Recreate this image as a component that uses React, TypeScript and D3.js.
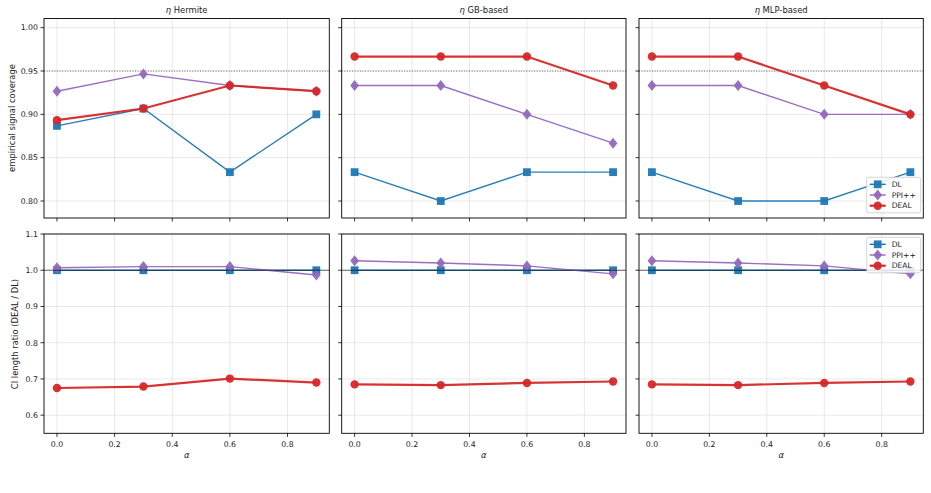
import React from "react";
import * as d3 from "d3";

const alphas = [0.0, 0.3, 0.6, 0.9];
const xTicks = [0.0, 0.2, 0.4, 0.6, 0.8];
const panelTitles = ["η Hermite", "η GB-based", "η MLP-based"];
const seriesNames = ["DL", "PPI++", "DEAL"];

// empirical signal coverage, one array per panel
const coverageDL = [
  [0.8867, 0.9067, 0.8333, 0.9],
  [0.8333, 0.8, 0.8333, 0.8333],
  [0.8333, 0.8, 0.8, 0.8333],
];
const coveragePPI = [
  [0.9267, 0.9467, 0.9333, 0.9267],
  [0.9333, 0.9333, 0.9, 0.8667],
  [0.9333, 0.9333, 0.9, 0.9],
];
const coverageDEAL = [
  [0.8933, 0.9067, 0.9333, 0.9267],
  [0.9667, 0.9667, 0.9667, 0.9333],
  [0.9667, 0.9667, 0.9333, 0.9],
];

// CI length ratio relative to DL
const ratioDL = [
  [1.0, 1.0, 1.0, 1.0],
  [1.0, 1.0, 1.0, 1.0],
  [1.0, 1.0, 1.0, 1.0],
];
const ratioPPI = [
  [1.007, 1.01, 1.01, 0.987],
  [1.026, 1.02, 1.012, 0.99],
  [1.026, 1.02, 1.012, 0.99],
];
const ratioDEAL = [
  [0.675, 0.679, 0.701, 0.69],
  [0.685, 0.683, 0.689, 0.693],
  [0.685, 0.683, 0.689, 0.693],
];

const coverageTicks = [0.8, 0.85, 0.9, 0.95, 1.0];
const ratioTicks = [0.6, 0.7, 0.8, 0.9, 1.0, 1.1];
const coverageTarget = 0.95;
const ratioBaseline = 1.0;

const COLORS = ["#1f77b4", "#9467bd", "#d62728"];
const LINE_W = [1.4, 1.4, 2.2];
const FONT = "DejaVu Sans, sans-serif";

const colX: [number, number][] = [
  [44, 329.3],
  [341.7, 626],
  [639, 923.3],
];
const rowY: [number, number][] = [
  [18.5, 218],
  [234, 433.3],
];

function Marker({ kind, x, y, color }: { kind: number; x: number; y: number; color: string }) {
  if (kind === 0) {
    const s = 7.8;
    return <rect x={x - s / 2} y={y - s / 2} width={s} height={s} fill={color} fillOpacity={0.95} />;
  }
  if (kind === 1) {
    const r = 5.5;
    return (
      <path
        d={`M${x},${y - r}L${x + r * 0.8},${y}L${x},${y + r}L${x - r * 0.8},${y}Z`}
        fill={color}
        fillOpacity={0.95}
      />
    );
  }
  return <circle cx={x} cy={y} r={4.2} fill={color} fillOpacity={0.95} />;
}

function Legend({ x, y }: { x: number; y: number }) {
  const w = 54;
  const h = 35.5;
  return (
    <g transform={`translate(${x},${y})`}>
      <rect x={0} y={0} width={w} height={h} rx={2} fill="white" fillOpacity={0.85} stroke="#cccccc" strokeWidth={0.8} />
      {seriesNames.map((n, i) => {
        const cy = 7 + i * 10.7;
        return (
          <g key={n}>
            <line x1={3} x2={19} y1={cy} y2={cy} stroke={COLORS[i]} strokeWidth={LINE_W[i]} />
            <Marker kind={i} x={11} y={cy} color={COLORS[i]} />
            <text x={25} y={cy + 2.8} fontSize={7.6} fontFamily={FONT} fill="#222">
              {n}
            </text>
          </g>
        );
      })}
    </g>
  );
}

function Panel({
  row,
  col,
  series,
  domain,
  ticks,
  tickFmt,
}: {
  row: number;
  col: number;
  series: number[][];
  domain: [number, number];
  ticks: number[];
  tickFmt: (v: number) => string;
}) {
  const [x0, x1] = colX[col];
  const [y0, y1] = rowY[row];
  const x = d3.scaleLinear().domain([-0.045, 0.945]).range([x0, x1]);
  const y = d3.scaleLinear().domain(domain).range([y1, y0]);
  const line = d3
    .line<number>()
    .x((_, i) => x(alphas[i]))
    .y((d) => y(d));

  return (
    <g>
      <defs>
        <clipPath id={`clip-${row}-${col}`}>
          <rect x={x0} y={y0} width={x1 - x0} height={y1 - y0} />
        </clipPath>
      </defs>
      {/* grid */}
      {xTicks.map((t) => (
        <line key={`gx${t}`} x1={x(t)} x2={x(t)} y1={y0} y2={y1} stroke="#b0b0b0" strokeOpacity={0.35} strokeWidth={0.8} />
      ))}
      {ticks.map((t) => (
        <line key={`gy${t}`} x1={x0} x2={x1} y1={y(t)} y2={y(t)} stroke="#b0b0b0" strokeOpacity={0.35} strokeWidth={0.8} />
      ))}
      <g clipPath={`url(#clip-${row}-${col})`}>
        {row === 0 && (
          <line
            x1={x0}
            x2={x1}
            y1={y(coverageTarget)}
            y2={y(coverageTarget)}
            stroke="#444"
            strokeWidth={0.8}
            strokeDasharray="1,1.6"
          />
        )}
        {series.map((vals, si) => (
          <g key={si}>
            <path d={line(vals) ?? ""} fill="none" stroke={COLORS[si]} strokeWidth={LINE_W[si]} strokeOpacity={0.95} />
            {vals.map((v, i) => (
              <Marker key={i} kind={si} x={x(alphas[i])} y={y(v)} color={COLORS[si]} />
            ))}
          </g>
        ))}
        {row === 1 && (
          <line
            x1={x0}
            x2={x1}
            y1={y(ratioBaseline)}
            y2={y(ratioBaseline)}
            stroke="#000"
            strokeOpacity={0.65}
            strokeWidth={0.9}
          />
        )}
      </g>
      {/* spines */}
      <rect x={x0} y={y0} width={x1 - x0} height={y1 - y0} fill="none" stroke="#000" strokeWidth={0.9} />
      {/* ticks */}
      {xTicks.map((t) => (
        <g key={`tx${t}`}>
          <line x1={x(t)} x2={x(t)} y1={y1} y2={y1 + 3.5} stroke="#000" strokeWidth={0.8} />
          {row === 1 && (
            <text x={x(t)} y={y1 + 13.3} textAnchor="middle" fontSize={7.8} fontFamily={FONT} fill="#222">
              {t.toFixed(1)}
            </text>
          )}
        </g>
      ))}
      {ticks.map((t) => (
        <g key={`ty${t}`}>
          <line x1={x0 - 3.5} x2={x0} y1={y(t)} y2={y(t)} stroke="#000" strokeWidth={0.8} />
          {col === 0 && (
            <text x={x0 - 6} y={y(t) + 2.8} textAnchor="end" fontSize={7.8} fontFamily={FONT} fill="#222">
              {tickFmt(t)}
            </text>
          )}
        </g>
      ))}
      {row === 0 && (
        <text x={(x0 + x1) / 2} y={13} textAnchor="middle" fontSize={8.4} fontFamily={FONT} fill="#222">
          <tspan fontStyle="italic">η</tspan>
          {panelTitles[col].slice(1)}
        </text>
      )}
      {row === 1 && (
        <text x={(x0 + x1) / 2} y={458} textAnchor="middle" fontSize={8.4} fontFamily={FONT} fontStyle="italic" fill="#222">
          α
        </text>
      )}
    </g>
  );
}

export default function App() {
  const fmt2 = d3.format(".2f");
  const fmt1 = d3.format(".1f");
  return (
    <svg width={931} height={493} style={{ position: "absolute", left: 0, top: 0, background: "white" }}>
      <rect x={0} y={0} width={931} height={493} fill="white" />
      {[0, 1, 2].map((c) => (
        <Panel
          key={`top${c}`}
          row={0}
          col={c}
          series={[coverageDL[c], coveragePPI[c], coverageDEAL[c]]}
          domain={[0.7804, 1.0106]}
          ticks={coverageTicks}
          tickFmt={fmt2}
        />
      ))}
      {[0, 1, 2].map((c) => (
        <Panel
          key={`bot${c}`}
          row={1}
          col={c}
          series={[ratioDL[c], ratioPPI[c], ratioDEAL[c]]}
          domain={[0.55, 1.1]}
          ticks={ratioTicks}
          tickFmt={fmt1}
        />
      ))}
      <text
        transform="translate(14.5,118) rotate(-90)"
        textAnchor="middle"
        fontSize={8.4}
        fontFamily={FONT}
        fill="#222"
      >
        empirical signal coverage
      </text>
      <text
        transform="translate(18,334) rotate(-90)"
        textAnchor="middle"
        fontSize={8.4}
        fontFamily={FONT}
        fill="#222"
      >
        CI length ratio (DEAL / DL)
      </text>
      <Legend x={866.7} y={177.3} />
      <Legend x={866.7} y={237.3} />
    </svg>
  );
}
